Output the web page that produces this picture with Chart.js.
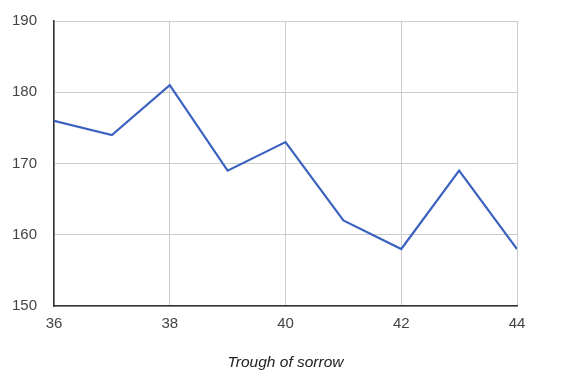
<!DOCTYPE html>
<html>
<head>
<meta charset="utf-8">
<script src="https://cdn.jsdelivr.net/npm/chart.js@4/dist/chart.umd.min.js"></script>
<style>
  html, body { margin: 0; padding: 0; background: #fff; }
  #wrap { width: 578px; height: 381px; }
</style>
</head>
<body>
<div id="wrap"><canvas id="c" width="578" height="381"></canvas></div>
<script>
const xValues = [36, 37, 38, 39, 40, 41, 42, 43, 44];
const yValues = [176, 174, 181, 169, 173, 162, 158, 169, 158];
const xTitle = 'Trough of sorrow';
const xMin = 36, xMax = 44, xStep = 2;
const yMin = 150, yMax = 190, yStep = 10;

const points = xValues.map((x, i) => ({ x: x, y: yValues[i] }));

new Chart(document.getElementById('c'), {
  type: 'line',
  data: {
    datasets: [{
      data: points,
      borderColor: '#3c62c0',
      borderWidth: 2.2,
      pointRadius: 0,
      tension: 0,
      fill: false
    }]
  },
  options: {
    responsive: false,
    animation: false,
    plugins: { legend: { display: false }, tooltip: { enabled: false } },
    layout: { padding: { left: 0, right: 61, top: 21, bottom: 0 } },
    scales: {
      x: {
        type: 'linear',
        min: xMin, max: xMax,
        ticks: { stepSize: xStep, color: '#444', font: { family: 'Liberation Sans, Arial', size: 15 }, padding: 9 },
        grid: { color: '#cccccc', drawTicks: false, lineWidth: 1 },
        border: { color: '#333', width: 1.5 },
        title: { display: true, text: xTitle, color: '#222', font: { family: 'Liberation Sans, Arial', size: 15.5, style: 'italic' }, padding: { top: 0, bottom: 9 } },
        afterFit: s => { s.height = 75; s.paddingLeft = 0; s.paddingRight = 0; }
      },
      y: {
        min: yMin, max: yMax,
        ticks: { stepSize: yStep, color: '#444', font: { family: 'Liberation Sans, Arial', size: 15 }, padding: 17 },
        grid: { color: '#cccccc', drawTicks: false, lineWidth: 1 },
        border: { color: '#333', width: 1.5 },
        afterFit: s => { s.width = 54; s.paddingTop = 0; s.paddingBottom = 0; }
      }
    }
  }
});
</script>
</body>
</html>
